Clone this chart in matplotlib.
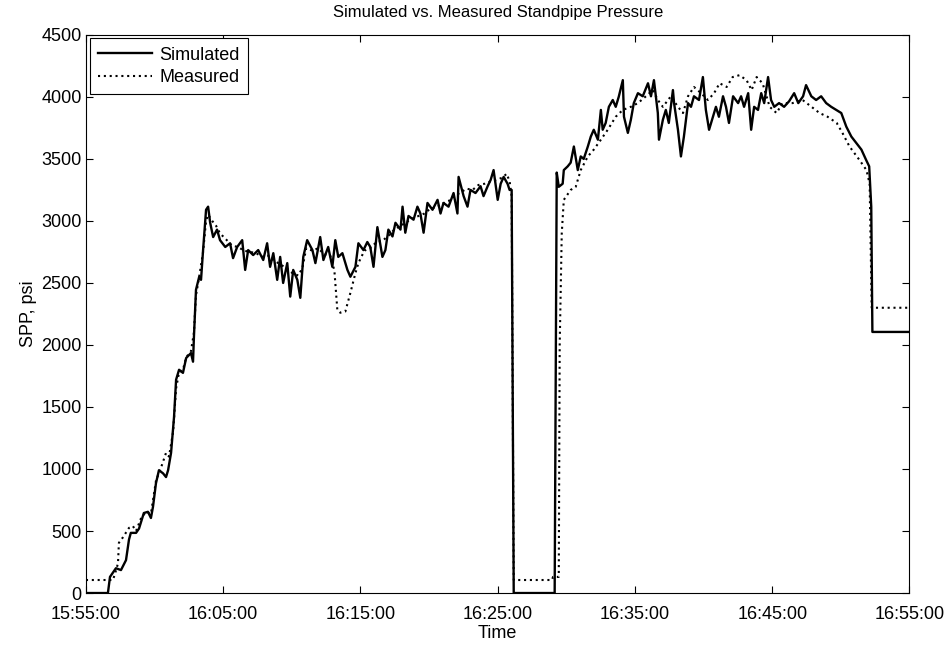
import matplotlib
matplotlib.use('Agg')
import matplotlib.pyplot as plt
import matplotlib.dates as mdates
import numpy as np

plt.rcParams['font.family'] = ['Liberation Sans', 'DejaVu Sans']

# minutes after 15:55:00 and standpipe pressure (psi)
sim_min = [0.00, 1.61, 1.75, 2.19, 2.55, 2.92, 3.14, 3.28, 3.65, 3.87, 4.23, 4.53, 4.74, 4.89,
           5.11, 5.33, 5.62, 5.84, 5.99, 6.20, 6.42, 6.57, 6.79, 7.08, 7.30, 7.66, 7.81, 7.88,
           8.03, 8.25, 8.39, 8.54, 8.76, 8.91, 9.05, 9.27, 9.56, 9.78, 10.15, 10.51, 10.73,
           11.02, 11.39, 11.61, 11.82, 12.19, 12.55, 12.92, 13.21, 13.43, 13.65, 13.94, 14.16,
           14.38, 14.67, 14.89, 15.11, 15.40, 15.62, 15.84, 16.13, 16.50, 16.72, 17.08, 17.30,
           17.66, 17.96, 18.18, 18.39, 18.69, 19.05, 19.27, 19.64, 19.85, 20.22, 20.51, 20.73,
           20.95, 21.24, 21.61, 21.82, 22.04, 22.34, 22.55, 22.92, 23.07, 23.28, 23.50, 23.87,
           24.16, 24.38, 24.60, 24.89, 25.26, 25.62, 25.84, 26.06, 26.42, 26.79, 27.08, 27.15,
           27.52, 27.81, 28.03, 28.39, 28.76, 28.98, 29.27, 29.49, 29.71, 30.00, 30.22, 30.44,
           30.73, 30.88, 31.02, 31.17, 34.16, 34.31, 34.45, 34.74, 34.82, 35.11, 35.33, 35.55,
           35.84, 36.06, 36.28, 36.57, 36.79, 37.01, 37.30, 37.52, 37.66, 37.88, 38.10, 38.39,
           38.61, 38.83, 39.12, 39.20, 39.49, 39.71, 39.93, 40.22, 40.58, 40.95, 41.17, 41.39,
           41.68, 41.75, 42.04, 42.26, 42.48, 42.77, 42.85, 43.14, 43.36, 43.58, 43.87, 44.09,
           44.31, 44.67, 44.96, 45.18, 45.40, 45.69, 45.91, 46.13, 46.42, 46.64, 46.86, 47.15,
           47.52, 47.74, 47.96, 48.25, 48.47, 48.69, 48.98, 49.20, 49.42, 49.71, 49.93, 50.15,
           50.51, 50.88, 51.24, 51.61, 51.90, 52.26, 52.48, 52.85, 53.21, 53.58, 53.94, 54.31,
           54.67, 55.04, 55.40, 55.77, 56.13, 56.50, 56.86, 57.08, 57.23, 57.30, 60.00]
sim_psi = [0, 0, 130, 200, 185, 265, 430, 485, 485, 520, 645, 655, 605, 695,
           885, 990, 965, 935, 990, 1130, 1420, 1720, 1800, 1775, 1895, 1935, 1865, 2065,
           2445, 2550, 2525, 2765, 3090, 3115, 2985, 2870, 2930, 2845, 2790, 2820, 2700,
           2790, 2845, 2605, 2765, 2725, 2765, 2685, 2820, 2630, 2740, 2525, 2710,
           2500, 2660, 2390, 2605, 2525, 2380, 2710, 2845, 2765, 2660, 2870, 2685,
           2790, 2630, 2845, 2710, 2740, 2605, 2550, 2630, 2820, 2765, 2830, 2790,
           2630, 2950, 2710, 2765, 2930, 2875, 2985, 2930, 3115, 2905, 3040, 3010,
           3115, 3060, 2905, 3145, 3090, 3170, 3060, 3145, 3115, 3225, 3060, 3355,
           3200, 3115, 3250, 3225, 3280, 3200, 3280, 3330, 3410, 3170, 3300, 3355,
           3300, 3250, 3250, 0, 0, 3390, 3275, 3300, 3410, 3440, 3470, 3600,
           3410, 3520, 3500, 3600, 3680, 3735, 3655, 3895, 3735, 3790, 3920, 3975,
           3920, 4000, 4135, 3840, 3710, 3815, 3950, 4030, 4005, 4110, 4005, 4135,
           3870, 3655, 3815, 3895, 3790, 4055, 3950, 3735, 3520, 3680, 3950, 3920,
           4005, 3975, 4160, 3895, 3735, 3840, 3920, 3840, 4005, 3920, 3790, 4005,
           3950, 4005, 3920, 4030, 3735, 3920, 3895, 4030, 3950, 4160, 3975, 3920,
           3950, 3920, 3965, 4030, 3950, 4005, 4095, 4005, 3975, 4005, 3950, 3920,
           3895, 3870, 3760, 3680, 3630, 3575, 3490, 3440, 3115, 2105, 2105]

meas_min = [0.00, 1.97, 2.19, 2.34, 2.41, 2.70, 3.14, 3.43, 3.65, 4.01, 4.38, 4.74, 5.11, 5.47,
            5.84, 6.06, 6.35, 6.57, 6.79, 7.08, 7.30, 7.66, 7.88, 8.03, 8.25, 8.54, 8.76, 8.91,
            9.20, 9.49, 9.78, 10.22, 10.66, 11.09, 11.53, 11.97, 12.41, 12.85, 13.28, 13.72,
            14.16, 14.60, 15.04, 15.47, 15.77, 16.06, 16.50, 16.93, 17.37, 17.81, 18.10, 18.32,
            18.54, 18.90, 19.27, 19.64, 19.85, 20.29, 20.73, 21.17, 21.61, 22.04, 22.48, 22.92,
            23.36, 23.80, 24.24, 24.67, 25.11, 25.55, 25.99, 26.42, 26.86, 27.30, 27.74, 28.18,
            28.61, 29.05, 29.49, 29.93, 30.36, 30.66, 30.88, 31.02, 31.17, 33.96, 34.04, 34.38,
            34.45, 34.53, 34.67, 34.82, 35.33, 35.69, 36.06, 36.57, 37.01, 37.52, 38.03, 38.61,
            39.12, 39.71, 40.22, 40.80, 41.31, 41.68, 42.04, 42.63, 43.14, 43.50, 43.87, 44.31,
            44.82, 45.33, 45.77, 46.18, 46.69, 47.12, 47.63, 48.14, 48.51, 48.87, 49.31, 49.82,
            50.33, 50.76, 51.49, 52.22, 52.88, 53.46, 54.04, 54.70, 55.13, 55.64, 56.37, 56.88,
            57.10, 57.25, 60.00]
meas_psi = [105, 105, 180, 240, 405, 450, 525, 540, 500, 600, 655, 640, 905, 1010,
            1130, 1100, 1300, 1650, 1780, 1800, 1900, 1950, 2100, 2400, 2550, 2750, 3000, 3050,
            3000, 2960, 2900, 2850, 2800, 2790, 2760, 2750, 2740, 2710, 2720, 2680,
            2650, 2620, 2580, 2560, 2620, 2780, 2760, 2780, 2730, 2720, 2600, 2280,
            2260, 2270, 2420, 2580, 2660, 2760, 2780, 2830, 2840, 2880, 2930, 2960,
            2990, 3020, 3040, 3060, 3100, 3110, 3140, 3160, 3200, 3230, 3260, 3250,
            3290, 3300, 3320, 3330, 3350, 3380, 3320, 3200, 105, 105, 130, 130,
            130, 2000, 2900, 3170, 3250, 3275, 3410, 3520, 3575, 3655, 3735, 3840,
            3895, 3920, 3950, 4005, 4055, 3975, 3920, 4005, 3920, 3870, 4005, 4080,
            4030, 3975, 4030, 4110, 4080, 4160, 4175, 4135, 4055, 4160, 4110, 3920,
            3870, 3950, 3950, 3975, 3920, 3870, 3840, 3790, 3710, 3600, 3490, 3410,
            3300, 2300, 2300]

start = np.datetime64('2000-01-01T15:55:00')
sim_t = start + (np.array(sim_min) * 60).astype('timedelta64[s]')
meas_t = start + (np.array(meas_min) * 60).astype('timedelta64[s]')

fig = plt.figure(figsize=(9.52, 6.46), dpi=100)
ax = fig.add_axes([0.0903, 0.082, 0.865, 0.864])

ax.plot(sim_t, sim_psi, color='black', lw=1.7, label='Simulated')
ax.plot(meas_t, meas_psi, color='black', lw=1.5, ls=(0, (1, 1.8)), label='Measured')

ax.set_xlim(start, start + np.timedelta64(60, 'm'))
ax.set_ylim(0, 4500)
ax.set_yticks(np.arange(0, 4501, 500))
ax.xaxis.set_major_locator(mdates.MinuteLocator(byminute=[5, 15, 25, 35, 45, 55]))
ax.xaxis.set_major_formatter(mdates.DateFormatter('%H:%M:%S'))

ax.tick_params(direction='in', top=True, right=True, length=5, width=0.8,
               labelsize=13, pad=3)
ax.tick_params(axis='x', pad=9)
for s in ax.spines.values():
    s.set_linewidth(0.8)

ax.set_title('Simulated vs. Measured Standpipe Pressure', fontsize=12, pad=13)
ax.set_xlabel('Time', fontsize=13, labelpad=2)
ax.set_ylabel('SPP, psi', fontsize=13, labelpad=3)

leg = ax.legend(loc='upper left', fontsize=13, handlelength=3.0, fancybox=False,
                edgecolor='black', framealpha=1, borderaxespad=0.2,
                handletextpad=0.4, borderpad=0.45, labelspacing=0.3)
leg.get_frame().set_linewidth(0.8)

fig.savefig('out.png', dpi=100)
